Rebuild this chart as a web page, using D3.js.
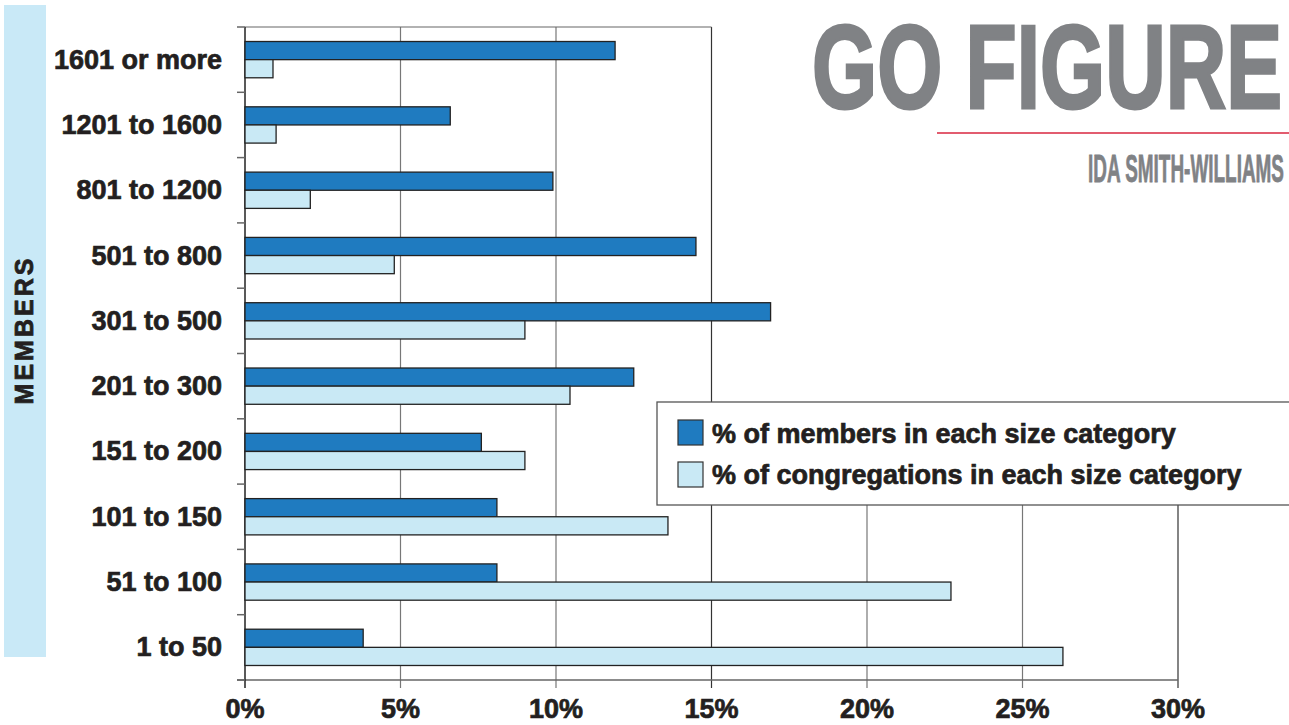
<!DOCTYPE html>
<html>
<head>
<meta charset="utf-8">
<script src="https://cdn.jsdelivr.net/npm/d3@7"></script>
<style>
  body { margin: 0; background: #fff; }
  text { font-family: "Liberation Sans Narrow", "Arial Narrow", "Liberation Sans", sans-serif; font-weight: bold; }
</style>
</head>
<body>
<div id="chart"></div>
<script>
// size categories, top to bottom
var categories = ["1601 or more", "1201 to 1600", "801 to 1200", "501 to 800", "301 to 500",
                  "201 to 300", "151 to 200", "101 to 150", "51 to 100", "1 to 50"];
// % of members in each size category
var members = [11.9, 6.6, 9.9, 14.5, 16.9, 12.5, 7.6, 8.1, 8.1, 3.8];
// % of congregations in each size category
var congregations = [0.9, 1.0, 2.1, 4.8, 9.0, 10.45, 9.0, 13.6, 22.7, 26.3];
var xTicks = [0, 5, 10, 15, 20, 25, 30];
var seriesNames = ["% of members in each size category", "% of congregations in each size category"];

var w = 1289, h = 725;
var plot = {left: 245, right: 1178, top: 27, bottom: 680};
var colors = ["#1f7bc0", "#c9e9f5"];
var ink = "#231f20";

var svg = d3.select("#chart").append("svg")
    .attr("width", w)
    .attr("height", h);

var x = d3.scaleLinear().domain([0, 30]).range([plot.left, plot.right]);
var y = d3.scaleBand().domain(categories).range([plot.top, plot.bottom]);
var sub = d3.scaleBand().domain([0, 1]).range([0, y.bandwidth()]).paddingOuter(0.8).paddingInner(0);

// condensed text: squeeze horizontally to the wanted width
function squeezed(str, xEnd, yBase, size, width, sw) {
    var g = svg.append("g");
    var t = g.append("text")
        .attr("text-anchor", "end")
        .attr("font-size", size)
        .attr("fill", "#808285").attr("stroke", "#808285").attr("stroke-width", sw)
        .text(str);
    var k = width / t.node().getComputedTextLength();
    g.attr("transform", "translate(" + xEnd + "," + yBase + ") scale(" + k + ",1)");
    t.attr("stroke-width", sw);
}

// <-- side strip -------------
svg.append("rect")
    .attr("x", 4).attr("y", 5).attr("width", 42).attr("height", 652)
    .attr("fill", "#c9e9f7");
svg.append("text")
    .attr("transform", "translate(33,330) rotate(-90)")
    .attr("text-anchor", "middle")
    .attr("font-size", 25)
    .attr("letter-spacing", 3)
    .attr("fill", ink).attr("stroke", ink).attr("stroke-width", 0.8)
    .text("MEMBERS");

// <-- title -------------
squeezed("GO FIGURE", 1282, 108, 118, 470, 3);
svg.append("line")
    .attr("x1", 937).attr("x2", 1289).attr("y1", 133).attr("y2", 133)
    .attr("stroke", "#d9263f").attr("stroke-width", 1.5);
squeezed("IDA SMITH-WILLIAMS", 1284, 182, 38, 196, 0.8);

// <-- grid -------------
var legendBox = {x: 657, y: 402, w: 640, h: 103};
xTicks.forEach(function(t) {
    if (t == 0) return;
    svg.append("line")
        .attr("x1", x(t)).attr("x2", x(t))
        .attr("y1", t <= 15 ? plot.top : legendBox.y + legendBox.h)
        .attr("y2", plot.bottom + 8)
        .attr("stroke", (t == 15 || t == 30) ? "#333" : "#777")
        .attr("stroke-width", 1.2);
});
svg.append("line")
    .attr("x1", plot.left).attr("x2", x(15)).attr("y1", plot.top).attr("y2", plot.top)
    .attr("stroke", "#666").attr("stroke-width", 1.2);

// x axis
svg.append("line")
    .attr("x1", plot.left - 8).attr("x2", plot.right).attr("y1", plot.bottom).attr("y2", plot.bottom)
    .attr("stroke", "#666").attr("stroke-width", 1.5);
svg.selectAll(".xtick")
    .data(xTicks)
    .enter().append("text")
    .attr("x", function(d) { return x(d); })
    .attr("y", 718)
    .attr("text-anchor", "middle")
    .attr("font-size", 27)
    .attr("fill", ink).attr("stroke", ink).attr("stroke-width", 0.7)
    .text(function(d) { return d + "%"; });

// y axis
svg.append("line")
    .attr("x1", plot.left).attr("x2", plot.left).attr("y1", plot.top).attr("y2", plot.bottom + 8)
    .attr("stroke", "#222").attr("stroke-width", 1.5);
var bounds = categories.map(function(c) { return y(c); }).concat([plot.bottom]);
svg.selectAll(".ytick")
    .data(bounds)
    .enter().append("line")
    .attr("x1", plot.left - 8).attr("x2", plot.left)
    .attr("y1", function(d) { return d; }).attr("y2", function(d) { return d; })
    .attr("stroke", "#666").attr("stroke-width", 1.5);
svg.selectAll(".ylabel")
    .data(categories)
    .enter().append("text")
    .attr("x", 222)
    .attr("y", function(d) { return y(d) + y.bandwidth() / 2 + 9; })
    .attr("text-anchor", "end")
    .attr("font-size", 27)
    .attr("fill", ink).attr("stroke", ink).attr("stroke-width", 0.7)
    .text(function(d) { return d; });

// <-- bars -------------
[members, congregations].forEach(function(series, s) {
    svg.append("g")
        .selectAll("rect")
        .data(series)
        .enter().append("rect")
        .attr("x", x(0))
        .attr("y", function(d, i) { return y(categories[i]) + sub(s); })
        .attr("width", function(d) { return x(d) - x(0); })
        .attr("height", sub.bandwidth())
        .attr("fill", colors[s])
        .attr("stroke", "#222")
        .attr("stroke-width", 1.3);
});

// <-- LEGEND -------------
svg.append("rect")
    .attr("x", legendBox.x).attr("y", legendBox.y)
    .attr("width", legendBox.w).attr("height", legendBox.h)
    .attr("fill", "#fff")
    .attr("stroke", "#555").attr("stroke-width", 1.3);
seriesNames.forEach(function(name, i) {
    svg.append("rect")
        .attr("x", 678).attr("y", 420 + i * 42)
        .attr("width", 25).attr("height", 25)
        .attr("fill", colors[i])
        .attr("stroke", "#333").attr("stroke-width", 1.2);
    svg.append("text")
        .attr("x", 712).attr("y", 443 + i * 41)
        .attr("font-size", 27)
        .attr("fill", ink).attr("stroke", ink).attr("stroke-width", 0.7)
        .text(name);
});
</script>
</body>
</html>
